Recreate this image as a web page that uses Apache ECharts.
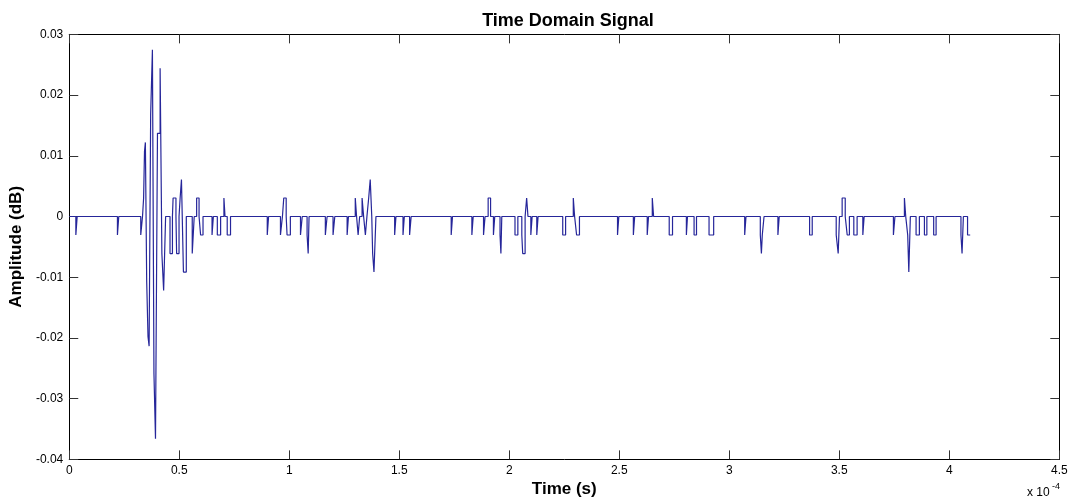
<!DOCTYPE html>
<html>
<head>
<meta charset="utf-8">
<script src="https://cdn.jsdelivr.net/npm/echarts@6/dist/echarts.min.js"></script>
<style>html,body{margin:0;padding:0;background:#fff;}#c{width:1072px;height:504px;}</style>
</head>
<body>
<div id="c"></div>
<script>
// Time in units of 1e-4 s, amplitude values (step/hold signal, value holds until next time)
const sampleTimes = [
  0, 0.030, 0.036, 0.219, 0.225,
  0.325, 0.333, 0.338, 0.342, 0.346, 0.352, 0.358, 0.363, 0.370, 0.378, 0.385, 0.392, 0.401, 0.413, 0.421, 0.429, 0.438,
  0.458, 0.469, 0.472, 0.485, 0.488, 0.499, 0.504, 0.510, 0.519, 0.532,
  0.559, 0.568, 0.579, 0.590, 0.597, 0.608, 0.649, 0.655, 0.673, 0.688, 0.703, 0.708, 0.718, 0.733,
  0.900, 0.906, 0.960, 0.969, 0.975, 0.986, 0.990, 1.005, 1.051, 1.059, 1.081, 1.086, 1.090,
  1.164, 1.172, 1.199, 1.207, 1.263, 1.269, 1.300, 1.306, 1.313, 1.320, 1.331, 1.338, 1.346, 1.353,
  1.361, 1.368, 1.375, 1.379, 1.385, 1.394,
  1.479, 1.485, 1.517, 1.523, 1.547, 1.554, 1.736, 1.742, 1.830, 1.836, 1.883, 1.890, 1.904, 1.915,
  1.928, 1.934, 1.958, 1.962, 1.966, 2.026, 2.039, 2.057, 2.061, 2.072, 2.079, 2.085, 2.098, 2.104,
  2.125, 2.131, 2.243, 2.256, 2.291, 2.297, 2.306, 2.319, 2.492, 2.498, 2.564, 2.570, 2.627, 2.633,
  2.650, 2.656, 2.727, 2.742, 2.805, 2.810, 2.840, 2.851, 2.908, 2.929,
  3.070, 3.076, 3.141, 3.146, 3.150, 3.158, 3.221, 3.227, 3.365, 3.377,
  3.486, 3.495, 3.501, 3.513, 3.527, 3.536, 3.546, 3.566, 3.581, 3.607, 3.613,
  3.746, 3.753, 3.796, 3.802, 3.811, 3.816, 3.823, 3.849, 3.864, 3.887, 3.898, 3.929, 3.940,
  4.053, 4.058, 4.064, 4.083, 4.095
];
const sampleAmps = [
  0, -0.00305, 0, -0.00305, 0,
  -0.00305, 0, 0.00305, 0.0107, 0.0122, -0.0107, -0.0198, -0.02135, 0.0168, 0.02745, -0.0259, -0.0366, 0.0137, 0.0244, -0.0061, -0.0122, 0,
  -0.0061, 0, 0.00305, 0, -0.0061, 0, 0.00305, 0.0061, -0.00915, 0,
  -0.0061, 0, 0.00305, 0, -0.00305, 0, -0.00305, 0, -0.00305, 0, 0.00305, 0, -0.00305, 0,
  -0.00305, 0, -0.00305, 0, 0.00305, 0, -0.00305, 0, -0.00305, 0, -0.00305, -0.0061, 0,
  -0.00305, 0, -0.00305, 0, -0.00305, 0, 0.00305, 0, -0.00305, 0, 0.00305, 0, -0.00305, 0,
  0.00305, 0.0061, 0, -0.0061, -0.00915, 0,
  -0.00305, 0, -0.00305, 0, -0.00305, 0, -0.00305, 0, -0.00305, 0, -0.00305, 0, 0.00305, 0,
  -0.00305, 0, -0.00305, -0.0061, 0, -0.00305, 0, -0.00305, -0.0061, 0, 0.00305, 0, -0.00305, 0,
  -0.00305, 0, -0.00305, 0, 0.00305, 0, -0.00305, 0, -0.00305, 0, -0.00305, 0, -0.00305, 0,
  0.00305, 0, -0.00305, 0, -0.00305, 0, -0.00305, 0, -0.00305, 0,
  -0.00305, 0, -0.00305, -0.0061, -0.00305, 0, -0.00305, 0, -0.00305, 0,
  -0.00305, -0.0061, 0, 0.00305, 0, -0.00305, 0, -0.00305, 0, -0.00305, 0,
  -0.00305, 0, 0.00305, 0, -0.00305, -0.00915, 0, -0.00305, 0, -0.00305, 0, -0.00305, 0,
  -0.00305, -0.0061, 0, -0.00305, -0.00305
];
const xRange = [0, 4.5, 0.5];
const yRange = [-0.04, 0.03, 0.01];
const titleText = 'Time Domain Signal';
const xName = 'Time (s)';
const yName = 'Amplitude (dB)';
const xExponent = ['x 10', '-4'];

const seriesData = sampleTimes.map((t, i) => [t, sampleAmps[i]]);
const FONT = 'Liberation Sans, Arial, sans-serif';
const fmtY = v => String(Math.round(v * 100) / 100);
const fmtX = v => String(Math.round(v * 10) / 10);

const axisCommon = {
  axisLine: { show: true, onZero: false, lineStyle: { color: '#000', width: 1 } },
  axisTick: { show: true, inside: true, length: 9, lineStyle: { color: '#333', width: 1 } },
  splitLine: { show: false }
};

const chart = echarts.init(document.getElementById('c'), null, { renderer: 'canvas' });
chart.setOption({
  animation: false,
  backgroundColor: '#fff',
  title: {
    text: titleText, left: 563, top: 7, textAlign: 'center',
    textStyle: { fontFamily: FONT, fontSize: 18, fontWeight: 'bold', color: '#000' }
  },
  grid: { left: 65.7, right: 12.7, top: 34.36, height: 425, containLabel: false },
  xAxis: [
    Object.assign({
      type: 'value', position: 'bottom', min: xRange[0], max: xRange[1], interval: xRange[2],
      name: xName, nameLocation: 'middle', nameGap: 21,
      nameTextStyle: { fontFamily: FONT, fontSize: 17, fontWeight: 'bold', color: '#000' },
      axisLabel: { show: true, margin: 5, formatter: fmtX, fontFamily: FONT, fontSize: 12, color: '#000' }
    }, axisCommon),
    Object.assign({
      type: 'value', position: 'top', min: xRange[0], max: xRange[1], interval: xRange[2],
      axisLabel: { show: false }
    }, axisCommon)
  ],
  yAxis: [
    Object.assign({
      type: 'value', position: 'left', min: yRange[0], max: yRange[1], interval: yRange[2],
      name: yName, nameLocation: 'middle', nameGap: 40,
      nameTextStyle: { fontFamily: FONT, fontSize: 17, fontWeight: 'bold', color: '#000' },
      axisLabel: { show: true, margin: 6, formatter: fmtY, fontFamily: FONT, fontSize: 12, color: '#000' }
    }, axisCommon),
    Object.assign({
      type: 'value', position: 'right', min: yRange[0], max: yRange[1], interval: yRange[2],
      axisLabel: { show: false }
    }, axisCommon)
  ],
  graphic: [
    { type: 'text', left: 1027, top: 487, style: { text: xExponent[0], font: '12px ' + FONT, fill: '#000' } },
    { type: 'text', left: 1052, top: 482, style: { text: xExponent[1], font: '9px ' + FONT, fill: '#000' } }
  ],
  series: [{
    type: 'line', xAxisIndex: 0, yAxisIndex: 0, data: seriesData, step: 'end',
    showSymbol: false, symbol: 'none', silent: true,
    lineStyle: { color: '#26269a', width: 1.2 }
  }]
});
</script>
</body>
</html>
